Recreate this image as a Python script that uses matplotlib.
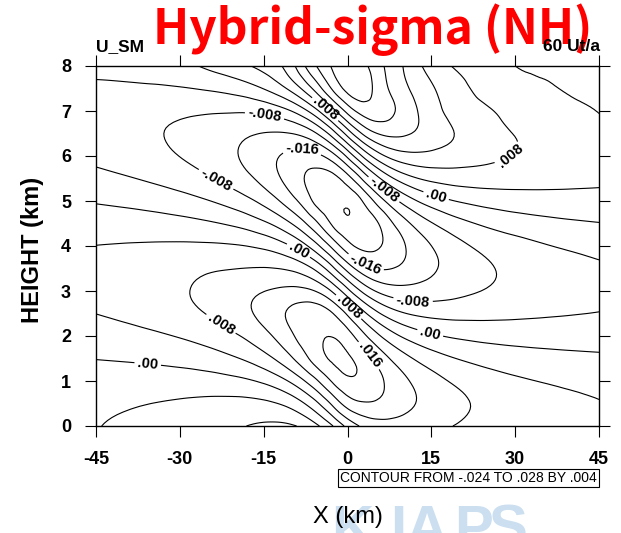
import numpy as np
import matplotlib
matplotlib.use("Agg")
import matplotlib.pyplot as plt
import matplotlib.tri as mtri

plt.rcParams["font.family"] = ["Liberation Sans", "DejaVu Sans"]
plt.rcParams["contour.negative_linestyle"] = "solid"

# Grid of the perturbation field (x in km, height in km)
x_km = [-45, -40, -35, -30, -25, -20, -15, -12.5, -10, -7.5, -5, -2.5, 0,
        2.5, 5, 7.5, 10, 12.5, 15, 20, 25, 30, 35, 40, 45]
z_km = [0.0, 0.5, 1.0, 1.5, 2.0, 2.5, 3.0, 3.5, 4.0, 4.5, 5.0, 5.5, 6.0,
        6.5, 7.0, 7.5, 8.0]

# U_SM values in units of 1e-3, one row per height
u_rows = [
    [-3.92, -4.37, -4.94, -5.64, -6.52, -7.57, -8.56, -8.76, -8.38, -6.92, -3.97, 0.18, 5.08,
     8.44, 10.05, 10.43, 10.16, 9.60, 8.96, 7.72, 6.68, 5.85, 5.18, 4.64, 4.20],
    [-3.35, -3.65, -4.01, -4.40, -4.81, -5.08, -4.77, -4.01, -2.48, 0.23, 4.21, 9.25, 13.74,
     15.55, 15.53, 14.52, 13.18, 11.83, 10.61, 8.63, 7.18, 6.11, 5.29, 4.65, 4.14],
    [-1.91, -1.96, -1.98, -1.92, -1.67, -1.00, 0.68, 2.30, 4.75, 8.21, 12.43, 16.76, 19.30,
     19.10, 17.36, 15.05, 12.86, 10.98, 9.46, 7.18, 5.65, 4.59, 3.83, 3.26, 2.82],
    [0.10, 0.35, 0.71, 1.27, 2.17, 3.71, 6.50, 8.69, 11.58, 15.11, 18.60, 20.55, 20.45,
     18.50, 15.25, 12.03, 9.41, 7.39, 5.87, 3.81, 2.58, 1.80, 1.29, 0.92, 0.65],
    [2.19, 2.69, 3.34, 4.25, 5.58, 7.58, 10.72, 12.88, 15.45, 18.00, 19.60, 19.85, 17.70,
     13.64, 9.40, 5.94, 3.46, 1.78, 0.63, -0.66, -1.27, -1.55, -1.68, -1.73, -1.74],
    [4.03, 4.69, 5.54, 6.66, 8.17, 10.28, 13.21, 14.98, 16.77, 18.12, 18.18, 15.91, 11.31,
     5.85, 1.25, -1.86, -3.72, -4.70, -5.17, -5.35, -5.12, -4.80, -4.46, -4.16, -3.88],
    [5.06, 5.72, 6.53, 7.54, 8.84, 10.20, 11.90, 12.60, 13.10, 12.90, 11.20, 7.12, 1.27,
     -4.30, -8.07, -9.95, -10.55, -10.48, -10.06, -8.88, -7.77, -6.84, -6.06, -5.43, -4.89],
    [5.08, 5.57, 6.13, 6.80, 7.56, 7.95, 8.20, 8.00, 7.30, 5.50, 1.99, -3.46, -9.43,
     -13.92, -16.05, -16.15, -15.22, -13.93, -12.59, -10.23, -8.42, -7.06, -6.01, -5.18, -4.51],
    [4.05, 4.24, 4.42, 4.56, 4.58, 4.29, 3.15, 1.92, -0.13, -3.36, -8.00, -13.54, -18.46,
     -20.95, -20.69, -18.79, -16.38, -14.06, -12.03, -8.93, -6.81, -5.42, -4.30, -3.46, -2.80],
    [2.13, 1.97, 1.70, 1.26, 0.52, -0.79, -3.25, -5.24, -8.04, -11.82, -16.36, -20.89, -23.30,
     -22.90, -20.76, -17.03, -13.53, -10.57, -8.29, -5.19, -3.24, -2.00, -1.17, -0.57, -0.14],
    [-0.32, -0.83, -1.51, -2.45, -3.82, -5.90, -9.20, -11.61, -14.59, -18.08, -21.61, -22.90, -23.35,
     -20.29, -15.31, -10.57, -6.75, -3.98, -2.05, 0.26, 1.43, 2.04, 2.38, 2.56, 2.65],
    [-2.84, -3.61, -4.58, -5.82, -7.51, -9.91, -13.29, -15.47, -17.88, -20.22, -21.78, -21.24, -17.68,
     -11.93, -5.85, -1.14, 1.98, 3.88, 4.95, 5.80, 5.88, 5.67, 5.37, 5.05, 4.74],
    [-4.91, -5.74, -6.77, -8.06, -9.68, -11.77, -14.38, -15.81, -17.03, -17.57, -16.59, -13.20, -7.12,
     -0.20, 5.42, 8.87, 10.51, 11.01, 10.88, 9.94, 8.86, 7.84, 6.94, 6.18, 5.51],
    [-6.05, -6.77, -7.61, -8.58, -9.73, -11.00, -12.13, -12.33, -12.00, -10.56, -7.17, -1.53, 5.57,
     11.92, 15.72, 16.92, 16.56, 15.50, 14.17, 11.57, 9.50, 7.86, 6.58, 5.53, 4.66],
    [-6.01, -6.41, -6.83, -7.24, -7.55, -7.64, -6.97, -5.86, -3.94, -0.67, 4.30, 10.79, 17.30,
     21.42, 22.40, 20.95, 18.58, 16.05, 13.77, 10.13, 8.40, 6.50, 5.30, 4.50, 3.95],
    [-4.68, -4.65, -4.53, -4.25, -3.60, -2.38, 0.13, 2.22, 5.25, 9.57, 15.01, 20.93, 25.11,
     25.95, 23.17, 19.73, 17.00, 14.60, 12.50, 9.00, 6.80, 5.20, 4.30, 3.80, 3.60],
    [-3.00, -2.60, -2.00, -1.20, 0.70, 2.70, 5.30, 7.10, 10.70, 16.20, 21.00, 24.70, 26.80,
     25.20, 22.30, 18.70, 15.90, 12.90, 10.50, 7.30, 5.70, 4.00, 3.70, 3.50, 3.40],
]

plain_levels = [-0.024, -0.020, -0.012, -0.004, 0.004, 0.012, 0.020, 0.024, 0.028]
label_levels = [-0.016, -0.008, 0.0, 0.008, 0.016]

# where the line labels sit (x, height)
label_spots = [(-4.0, 7.04), (-14.8, 6.93), (-8.1, 6.16), (-23.7, 5.44), (29.1, 6.02),
               (6.4, 5.24), (16.0, 5.18), (-8.9, 3.87), (3.1, 3.58), (11.7, 2.76),
               (0.0, 2.62), (14.8, 2.07), (4.0, 1.58), (-22.8, 2.24), (-35.8, 1.31)]

x_ticks = [-45, -30, -15, 0, 15, 30, 45]
y_ticks = [0, 1, 2, 3, 4, 5, 6, 7, 8]

W, H = 621, 533
fig = plt.figure(figsize=(W / 100, H / 100), dpi=100)
ax = fig.add_axes([96 / W, (H - 426) / H, (599 - 96) / W, (426 - 66) / H])

# triangulate the grid cells and let matplotlib's refiner smooth the contouring
xs = np.array(x_km)
zs = np.array(z_km)
nx, nz = len(xs), len(zs)
X, Z = np.meshgrid(xs, zs)
U = np.array(u_rows) * 1e-3
tris = []
for j in range(nz - 1):
    for i in range(nx - 1):
        k = j * nx + i
        tris.append([k, k + 1, k + nx + 1])
        tris.append([k, k + nx + 1, k + nx])
stretch = 10.0  # height is stretched only to keep the triangles well shaped
tri = mtri.Triangulation(X.ravel(), Z.ravel() * stretch, np.array(tris))
tri_f, u_f = mtri.UniformTriRefiner(tri).refine_field(U.ravel(), subdiv=3)
tri_plot = mtri.Triangulation(tri_f.x, tri_f.y / stretch, tri_f.triangles)

ax.tricontour(tri_plot, u_f, levels=plain_levels, colors="black", linewidths=0.8)
cs = ax.tricontour(tri_plot, u_f, levels=label_levels, colors="black", linewidths=0.8)


def fmt(v):
    if abs(v) < 1e-12:
        return ".00"
    s = f"{v:.3f}"
    return s.replace("0.", ".", 1)


plt.rcParams["font.weight"] = "bold"
ax.clabel(cs, fmt=fmt, fontsize=10.5, inline=True, inline_spacing=3,
          manual=label_spots)
plt.rcParams["font.weight"] = "normal"

ax.set_xlim(-45, 45)
ax.set_ylim(0, 8)
ax.set_xticks(x_ticks)
ax.set_xticklabels([str(t) for t in x_ticks])
ax.set_yticks(y_ticks)
ax.set_yticklabels([str(t) for t in y_ticks])
ax.tick_params(axis="both", which="major", direction="out", length=8, width=0.8,
               top=True, right=True, labelsize=13, pad=10)
for lab in ax.get_xticklabels() + ax.get_yticklabels():
    lab.set_fontweight("bold")
for sp in ax.spines.values():
    sp.set_linewidth(1.0)

# watermark behind the lower margin
for ch, xc in zip("KIAPS", [352, 398, 427, 474, 508]):
    fig.text(xc / W, 1 - 546 / H, ch, color="#cbdff0", fontsize=42,
             fontweight="bold", ha="center", va="baseline", zorder=-1)

fig.text(348 / W, 1 - 517 / H, "X (km)", fontsize=17, ha="center", va="center")
fig.text(33 / W, 1 - 250 / H, "HEIGHT (km)", fontsize=17, fontweight="bold",
         rotation=90, ha="center", va="center")

fig.text(373 / W, 1 - 44 / H, "Hybrid-sigma (NH)", color="#ff0000", fontsize=34.5,
         fontweight="bold", family=["Noto Sans CJK KR", "DejaVu Sans"],
         ha="center", va="baseline", zorder=2)
fig.text(96 / W, 1 - 51 / H, "U_SM", fontsize=12.5, fontweight="bold",
         ha="left", va="baseline", zorder=5)
fig.text(600 / W, 1 - 51 / H, "60 Ut/a", fontsize=12.5, fontweight="bold",
         ha="right", va="baseline", zorder=5)

fig.text(597 / W, 1 - 478 / H, "CONTOUR FROM -.024 TO .028 BY .004", fontsize=10,
         ha="right", va="center",
         bbox=dict(boxstyle="square,pad=0.15", fc="white", ec="black", lw=0.8))

fig.savefig("out.png", dpi=100)
